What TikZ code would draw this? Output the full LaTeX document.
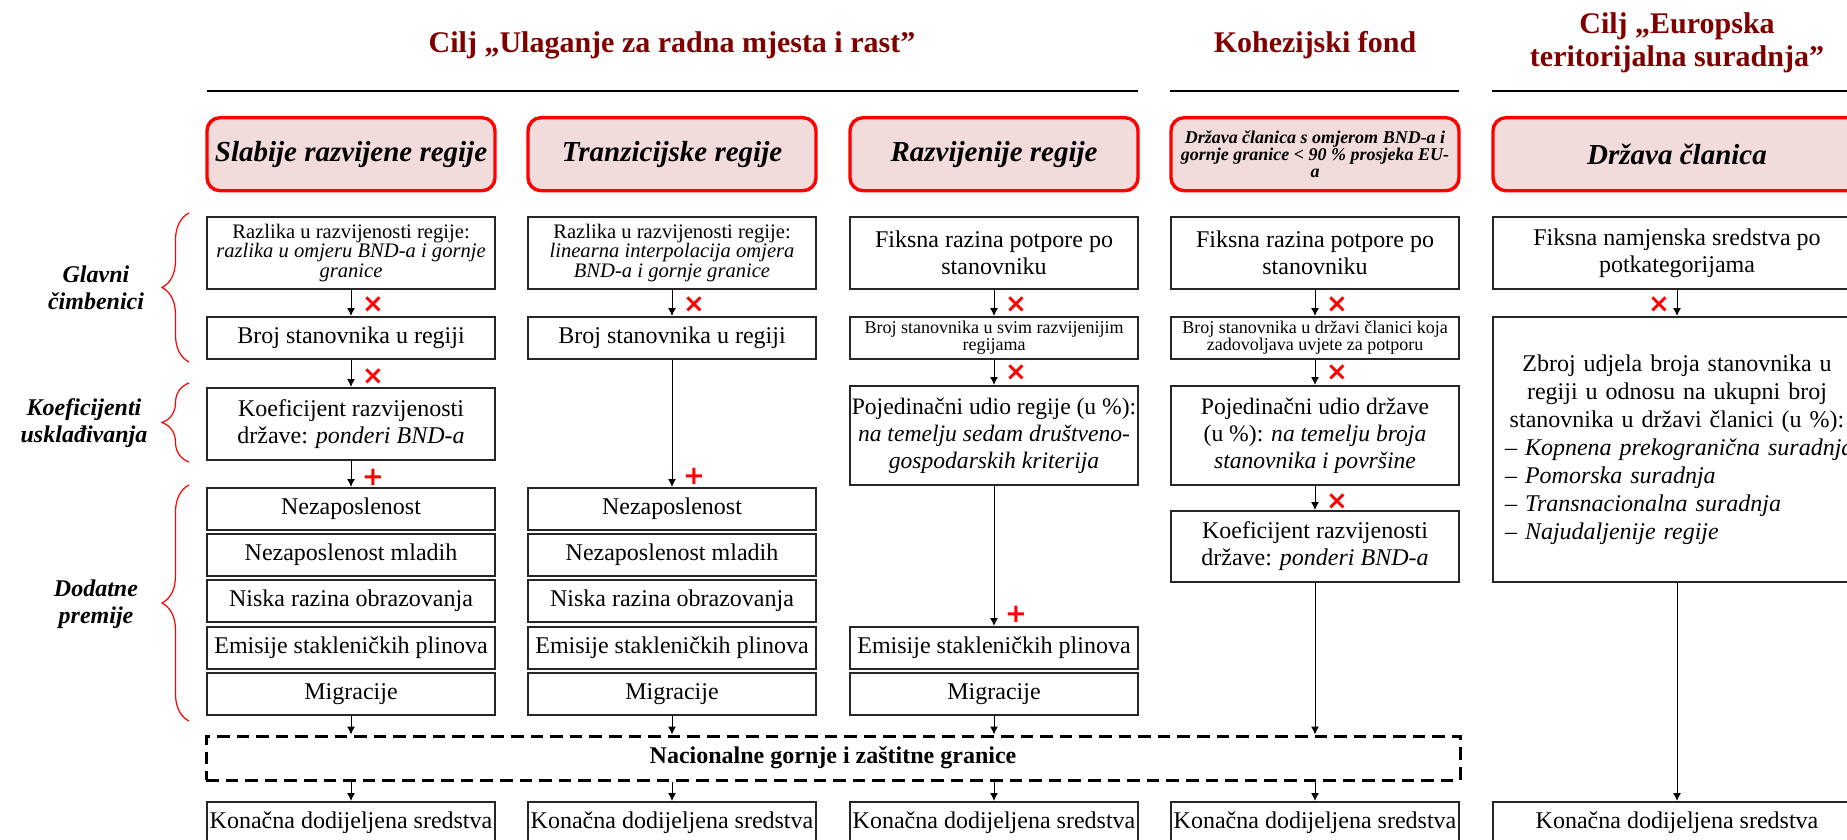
\documentclass[tikz,border=0pt]{standalone}
\usepackage{fontspec}
\setmainfont{Liberation Serif}
\newfontfamily\symfont{DejaVu Sans}
\usepackage{tikz}
\usetikzlibrary{arrows.meta,decorations.pathreplacing,positioning,calc}

\definecolor{titlered}{RGB}{128,0,0}
\definecolor{headfill}{RGB}{242,220,219}

\tikzset{
  box/.style={draw=black!85, line width=0.8pt, align=center, minimum width=144pt, inner sep=1pt, anchor=north, font=\fontsize{12}{13.5}\selectfont},
  one/.style={box, minimum height=21pt},
  two/.style={box, minimum height=36pt},
  three/.style={box, minimum height=49.5pt, font=\fontsize{11.8}{13.5}\selectfont},
  smalltxt/.style={font=\fontsize{10.3}{9.8}\selectfont},
  tinytxt/.style={font=\fontsize{9}{8.3}\selectfont},
  head/.style={draw=red, fill=headfill, line width=1.7pt, rounded corners=6.5pt, minimum width=144pt, minimum height=36.5pt, align=center, anchor=north, inner sep=1pt, font=\fontsize{14.5}{16}\selectfont\bfseries\itshape},
  ttl/.style={text=titlered, align=center, font=\fontsize{15}{16.5}\selectfont\bfseries},
  lab/.style={align=center, font=\fontsize{12}{13.5}\selectfont\bfseries\itshape},
  arr/.style={-{Latex[length=4pt,width=4pt]}, line width=0.5pt},
  mk/.style={text=red, inner sep=0pt, font=\fontsize{13}{13}\symfont\bfseries},
  brc/.style={red, line width=0.6pt, decorate, decoration={brace, amplitude=13.5pt}},
  rule/.style={line width=1.3pt},
  natbox/.style={draw, line width=1.5pt, dash pattern=on 6.3pt off 3.5pt, minimum width=627pt, minimum height=22pt, font=\fontsize{12}{13.5}\selectfont\bfseries},
}

\begin{document}
\begin{tikzpicture}[x=0.5pt, y=-0.5pt]
  \useasboundingbox (0,0) rectangle (1847,840);
  \clip (0,0) rectangle (1847,840); % 右侧和底部被裁掉
  % 标题
  \node[ttl, anchor=base] (t1) at (672,53) {Cilj „Ulaganje za radna mjesta i rast”};
  \node[ttl, anchor=base] (t2) at (1315,53) {Kohezijski fond};
  \node[ttl] (t3) at (1677,43) {Cilj „Europska\\ teritorijalna suradnja”};
  \draw[rule] (207,91) -- (1138,91);
  \draw[rule] (1170,91) -- (1459,91);
  \draw[rule] (1492,91) -- (1860,91);

  \node[head] (h1) at (351,116) {Slabije razvijene regije};
  \node[head] (h2) at (672,116) {Tranzicijske regije};
  \node[head] (h3) at (994,116) {Razvijenije regije};
  \node[head, font=\fontsize{9}{8.3}\selectfont\bfseries\itshape] (h4) at (1315,116) {Država članica s omjerom BND-a i\\ gornje granice < 90~\% prosjeka EU-\\ a};
  \node[head, minimum width=184pt] (h5) at (1677,116) {Država članica};

  % 左侧括号
  \draw[brc] (189,362) -- (189,213);
  \draw[brc] (189,462) -- (189,383);
  \draw[brc] (189,721) -- (189,485);
  \node[lab] (l1) at (96,288) {Glavni\\ čimbenici};
  \node[lab] (l2) at (84,423) {Koeficijenti\\ usklađivanja};
  \node[lab] (l3) at (96,604) {Dodatne\\ premije};

  % 第一列
  \node[two, smalltxt] (c1r1) at (351,216) {Razlika u razvijenosti regije:\\ \textit{razlika u omjeru BND-a i gornje}\\ \textit{granice}};
  \node[one] (c1r2) at (351,316) {Broj stanovnika u regiji};
  \node[two] (c1r3) at (351,387) {Koeficijent razvijenosti\\ države: \textit{ponderi BND-a}};
  \node[one] (c1r4) at (351,487) {Nezaposlenost};
  \node[one] (c1r5) at (351,533) {Nezaposlenost mladih};
  \node[one] (c1r6) at (351,579) {Niska razina obrazovanja};
  \node[one] (c1r7) at (351,626) {Emisije stakleničkih plinova};
  \node[one] (c1r8) at (351,672) {Migracije};

  % 第二列
  \node[two, smalltxt] (c2r1) at (672,216) {Razlika u razvijenosti regije:\\ \textit{linearna interpolacija omjera}\\ \textit{BND-a i gornje granice}};
  \node[one] (c2r2) at (672,316) {Broj stanovnika u regiji};
  \node[one] (c2r4) at (672,487) {Nezaposlenost};
  \node[one] (c2r5) at (672,533) {Nezaposlenost mladih};
  \node[one] (c2r6) at (672,579) {Niska razina obrazovanja};
  \node[one] (c2r7) at (672,626) {Emisije stakleničkih plinova};
  \node[one] (c2r8) at (672,672) {Migracije};

  % 第三列
  \node[two] (c3r1) at (994,216) {Fiksna razina potpore po\\ stanovniku};
  \node[one, tinytxt] (c3r2) at (994,316) {Broj stanovnika u svim razvijenijim\\ regijama};
  \node[three] (c3r3) at (994,385) {Pojedinačni udio regije (u~\%):\\ \textit{na temelju sedam društveno-}\\ \textit{gospodarskih kriterija}};
  \node[one] (c3r7) at (994,626) {Emisije stakleničkih plinova};
  \node[one] (c3r8) at (994,672) {Migracije};

  % 第四列
  \node[two] (c4r1) at (1315,216) {Fiksna razina potpore po\\ stanovniku};
  \node[one, tinytxt] (c4r2) at (1315,316) {Broj stanovnika u državi članici koja\\ zadovoljava uvjete za potporu};
  \node[three] (c4r3) at (1315,385) {Pojedinačni udio države\\ (u~\%): \textit{na temelju broja}\\ \textit{stanovnika i površine}};
  \node[two, minimum height=35.5pt] (c4r4) at (1315,510) {Koeficijent razvijenosti\\ države: \textit{ponderi BND-a}};

  % 第五列
  \node[two, minimum width=184pt] (c5r1) at (1677,216) {Fiksna namjenska sredstva po\\ potkategorijama};
  \node[box, text width=172pt, inner xsep=6pt, align=left, minimum height=132.5pt, font=\fontsize{12}{14}\selectfont] (c5r2) at (1677,316) {{\centering Zbroj udjela broja stanovnika u\\ regiji u odnosu na ukupni broj\\ stanovnika u državi članici (u~\%):\par}\mbox{– \textit{Kopnena prekogranična suradnja}}\\ – \textit{Pomorska suradnja}\\ – \textit{Transnacionalna suradnja}\\ – \textit{Najudaljenije regije}};

  \node[natbox] (nat) at (833,758) {Nacionalne gornje i zaštitne granice};

  \node[one] (f1) at (351,801) {Konačna dodijeljena sredstva};
  \node[one] (f2) at (672,801) {Konačna dodijeljena sredstva};
  \node[one] (f3) at (994,801) {Konačna dodijeljena sredstva};
  \node[one] (f4) at (1315,801) {Konačna dodijeljena sredstva};
  \node[one, minimum width=184pt] (f5) at (1677,801) {Konačna dodijeljena sredstva};

  % 箭头
  \draw[arr] (c1r1) -- (c1r2);
  \draw[arr] (c1r2) -- (c1r3);
  \draw[arr] (c1r3) -- (c1r4);
  \draw[arr] (c2r1) -- (c2r2);
  \draw[arr] (c2r2) -- (c2r4);
  \draw[arr] (c3r1) -- (c3r2);
  \draw[arr] (c3r2) -- (c3r3);
  \draw[arr] (c3r3) -- (c3r7);
  \draw[arr] (c4r1) -- (c4r2);
  \draw[arr] (c4r2) -- (c4r3);
  \draw[arr] (c4r3) -- (c4r4);
  \draw[arr] (c5r1) -- (c5r2);
  \draw[arr] (c5r2) -- (f5);
  \draw[arr] (c1r8) -- (c1r8 |- nat.north);
  \draw[arr] (c2r8) -- (c2r8 |- nat.north);
  \draw[arr] (c3r8) -- (c3r8 |- nat.north);
  \draw[arr] (c4r4) -- (c4r4 |- nat.north);
  \draw[arr] (f1 |- nat.south) -- (f1);
  \draw[arr] (f2 |- nat.south) -- (f2);
  \draw[arr] (f3 |- nat.south) -- (f3);
  \draw[arr] (f4 |- nat.south) -- (f4);

  % 红色运算符号
  \node[mk] (m1) at ([shift={(11pt,5.5pt)}]c1r2.north) {×};
  \node[mk] (m2) at ([shift={(11pt,5pt)}]c1r3.north) {×};
  \node[mk] (m3) at ([shift={(11pt,5pt)}]c1r4.north) {+};
  \node[mk] (m4) at ([shift={(11pt,5.5pt)}]c2r2.north) {×};
  \node[mk] (m5) at ([shift={(11pt,5.5pt)}]c2r4.north) {+};
  \node[mk] (m6) at ([shift={(11pt,5.5pt)}]c3r2.north) {×};
  \node[mk] (m7) at ([shift={(11pt,6pt)}]c3r3.north) {×};
  \node[mk] (m8) at ([shift={(11pt,6pt)}]c3r7.north) {+};
  \node[mk] (m9) at ([shift={(11pt,5.5pt)}]c4r2.north) {×};
  \node[mk] (m10) at ([shift={(11pt,6pt)}]c4r3.north) {×};
  \node[mk] (m11) at ([shift={(11pt,4pt)}]c4r4.north) {×};
  \node[mk] (m12) at ([shift={(-9pt,5.5pt)}]c5r2.north) {×};
\end{tikzpicture}
\end{document}
